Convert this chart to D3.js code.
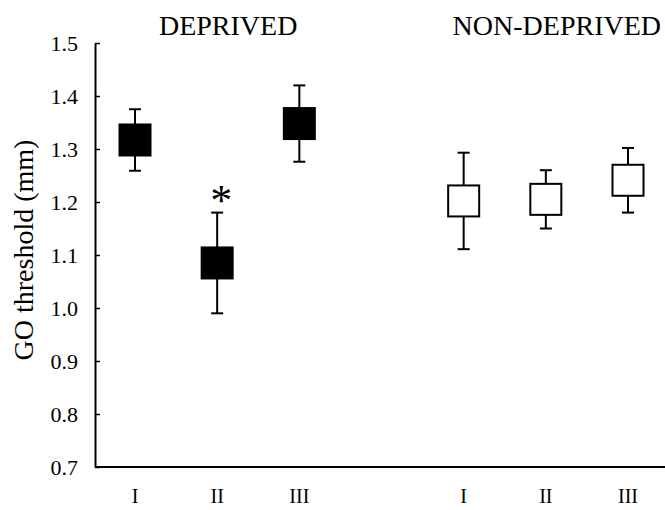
<!DOCTYPE html>
<html>
<head>
    <script src="https://d3js.org/d3.v7.min.js"></script>
    <style>
        body { margin: 0; background: #fff; }
        text { font-family: "Liberation Serif", "Times New Roman", serif; fill: #000; }
    </style>
</head>
<body>
    <svg width="665" height="510"></svg>
    <script>
        // Data
        const groups = ["DEPRIVED", "NON-DEPRIVED"];
        const sessions = ["I", "II", "III"];
        const deprivedMean = [1.317, 1.085, 1.348];
        const deprivedErr = [0.058, 0.095, 0.072];
        const nonDeprivedMean = [1.202, 1.205, 1.241];
        const nonDeprivedErr = [0.091, 0.055, 0.061];
        const yTicks = [0.7, 0.8, 0.9, 1.0, 1.1, 1.2, 1.3, 1.4, 1.5];
        const significant = [{group: 0, session: 1, label: "*"}];

        // slot index: 3 sessions per group with one empty slot between groups
        const points = [];
        groups.forEach((g, gi) => {
            const means = gi === 0 ? deprivedMean : nonDeprivedMean;
            const errs = gi === 0 ? deprivedErr : nonDeprivedErr;
            sessions.forEach((s, si) => {
                points.push({group: gi, session: s, slot: gi * 4 + si, mean: means[si], err: errs[si]});
            });
        });

        const svg = d3.select("svg");

        const x = d3.scaleLinear().domain([0, 6]).range([135, 628]);
        const y = d3.scaleLinear().domain([0.7, 1.5]).range([467, 43]);
        const axisX = 95;
        const boxSize = 31;

        // Y axis with inward ticks
        const yAxis = svg.append("g")
            .attr("transform", "translate(" + axisX + ",0)")
            .call(d3.axisLeft(y).tickValues(yTicks).tickSizeInner(-5).tickSizeOuter(0)
                .tickPadding(17).tickFormat(d3.format(".1f")));
        yAxis.select(".domain").attr("stroke-width", 2).attr("stroke", "#000");
        yAxis.selectAll(".tick line").attr("stroke-width", 1.5).attr("stroke", "#000");
        yAxis.selectAll(".tick text")
            .style("font-family", "'Liberation Serif', 'Times New Roman', serif")
            .style("font-size", "22px");

        // X axis line
        svg.append("line")
            .attr("x1", axisX).attr("x2", 665)
            .attr("y1", y(0.7)).attr("y2", y(0.7))
            .attr("stroke", "#000").attr("stroke-width", 2);

        // session labels
        svg.selectAll(".xlab")
            .data(points)
            .enter().append("text")
            .attr("class", "xlab")
            .attr("x", d => x(d.slot))
            .attr("y", 503)
            .attr("text-anchor", "middle")
            .style("font-size", "20px")
            .text(d => d.session);

        // group titles
        svg.selectAll(".title")
            .data(groups)
            .enter().append("text")
            .attr("class", "title")
            .attr("x", (d, i) => x(i * 4 + 1) + 11)
            .attr("y", 35)
            .attr("text-anchor", "middle")
            .style("font-size", "28px")
            .text(d => d);

        // y label
        svg.append("text")
            .attr("transform", "translate(33," + 250 + ") rotate(-90)")
            .attr("text-anchor", "middle")
            .style("font-size", "28px")
            .text("GO threshold (mm)");

        // error bars
        const bars = svg.selectAll(".err")
            .data(points)
            .enter().append("g")
            .attr("class", "err")
            .attr("stroke", "#000")
            .attr("stroke-width", 2);
        bars.append("line")
            .attr("x1", d => x(d.slot)).attr("x2", d => x(d.slot))
            .attr("y1", d => y(d.mean + d.err)).attr("y2", d => y(d.mean - d.err));
        bars.append("line")
            .attr("x1", d => x(d.slot) - 6).attr("x2", d => x(d.slot) + 6)
            .attr("y1", d => y(d.mean + d.err)).attr("y2", d => y(d.mean + d.err));
        bars.append("line")
            .attr("x1", d => x(d.slot) - 6).attr("x2", d => x(d.slot) + 6)
            .attr("y1", d => y(d.mean - d.err)).attr("y2", d => y(d.mean - d.err));

        // square markers
        svg.selectAll(".marker")
            .data(points)
            .enter().append("rect")
            .attr("class", "marker")
            .attr("x", d => x(d.slot) - boxSize / 2)
            .attr("y", d => y(d.mean) - boxSize / 2)
            .attr("width", boxSize)
            .attr("height", boxSize)
            .attr("fill", d => d.group === 0 ? "#000" : "#fff")
            .attr("stroke", "#000")
            .attr("stroke-width", 2);

        // significance asterisk
        svg.selectAll(".sig")
            .data(significant)
            .enter().append("text")
            .attr("class", "sig")
            .attr("x", d => {
                const p = points.find(q => q.group === d.group && q.session === sessions[d.session]);
                return x(p.slot) + 4;
            })
            .attr("y", d => {
                const p = points.find(q => q.group === d.group && q.session === sessions[d.session]);
                return y(p.mean + p.err) + 2;
            })
            .attr("text-anchor", "middle")
            .style("font-size", "44px")
            .text(d => d.label);
    </script>
</body>
</html>
